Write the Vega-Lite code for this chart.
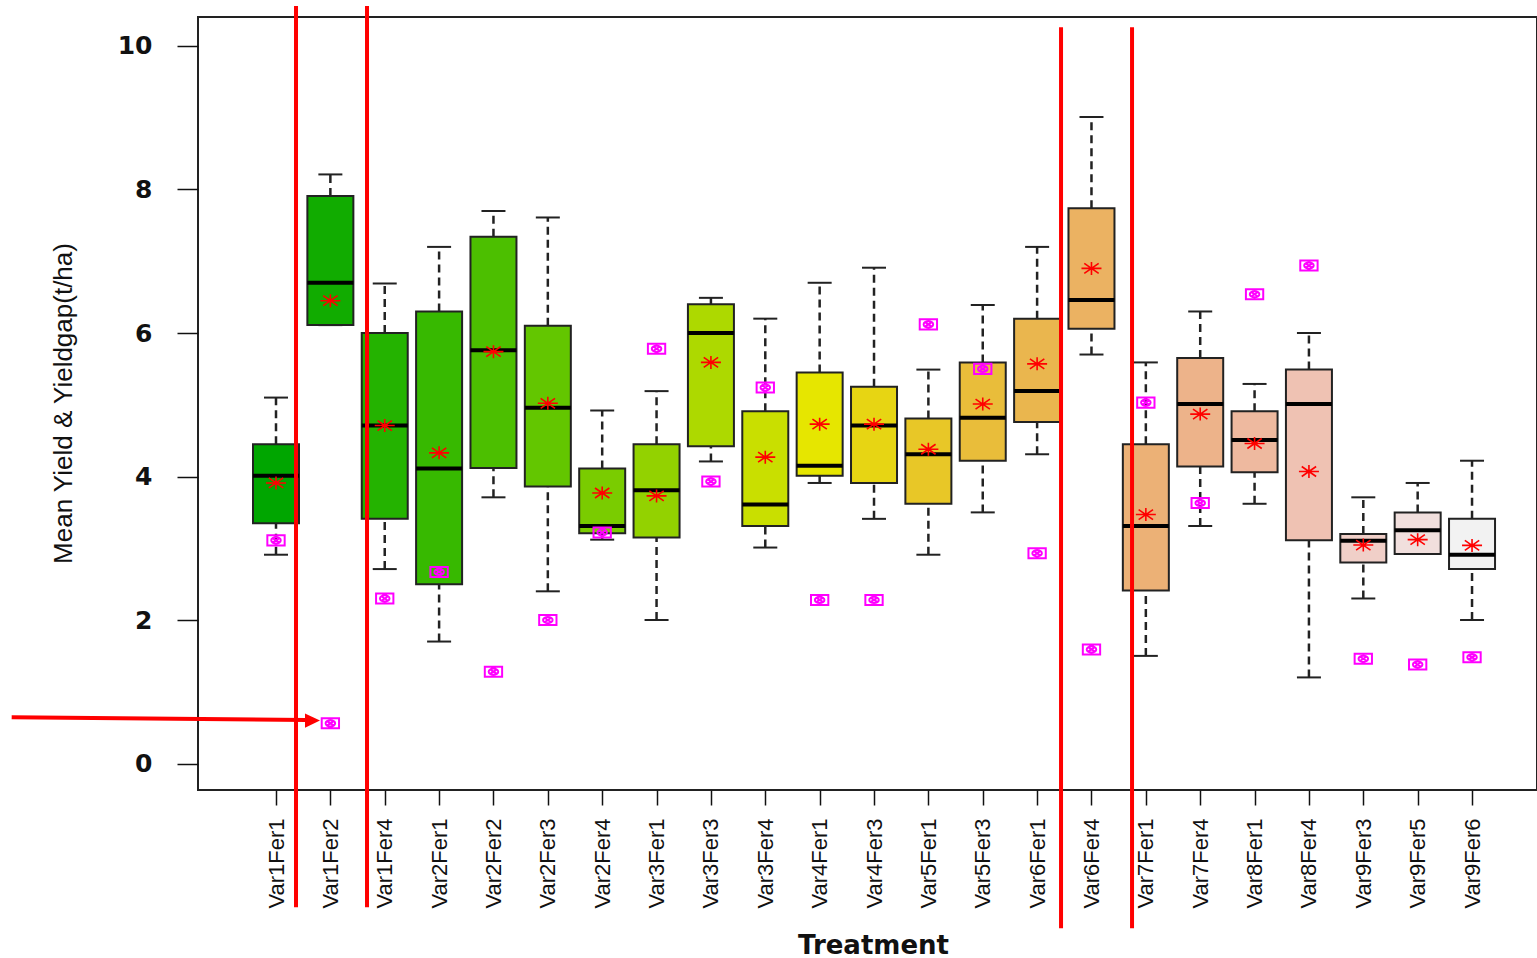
{
  "$schema": "https://vega.github.io/schema/vega-lite/v6.json",
  "width": 1339,
  "height": 773,
  "autosize": {"type": "none"},
  "padding": {"left": 198, "top": 17, "right": 0, "bottom": 168},
  "background": "white",
  "config": {
    "view": {"stroke": "#222222", "strokeWidth": 2},
    "axis": {"grid": false, "domain": false, "tickColor": "#111111", "tickWidth": 1.5, "labelColor": "#111111", "titleColor": "#111111"},
    "axisY": {
      "tickCount": 5,
      "labelFont": "DejaVu Sans",
      "labelFontWeight": "bold",
      "labelFontSize": 25,
      "labelFlush": false,
      "tickSize": 21,
      "labelPadding": 25,
      "titleFont": "Liberation Sans",
      "titleFontSize": 26,
      "titleFontWeight": "normal",
      "titleAngle": 270,
      "titleX": -127,
      "titleY": 386,
      "titleBaseline": "alphabetic",
      "titleAlign": "center"
    }
  },
  "datasets": {
    "boxes": [
      {"pos": 1, "treatment": "Var1Fer1", "lower": 2.91, "q1": 3.35, "median": 4.01, "q3": 4.45, "upper": 5.10, "mean": 3.91, "gap": 3.11},
      {"pos": 2, "treatment": "Var1Fer2", "lower": 6.11, "q1": 6.11, "median": 6.70, "q3": 7.91, "upper": 8.21, "mean": 6.45, "gap": 0.56},
      {"pos": 3, "treatment": "Var1Fer4", "lower": 2.71, "q1": 3.41, "median": 4.71, "q3": 6.00, "upper": 6.69, "mean": 4.71, "gap": 2.30},
      {"pos": 4, "treatment": "Var2Fer1", "lower": 1.70, "q1": 2.50, "median": 4.11, "q3": 6.30, "upper": 7.20, "mean": 4.33, "gap": 2.67},
      {"pos": 5, "treatment": "Var2Fer2", "lower": 3.71, "q1": 4.12, "median": 5.76, "q3": 7.34, "upper": 7.70, "mean": 5.74, "gap": 1.28},
      {"pos": 6, "treatment": "Var2Fer3", "lower": 2.40, "q1": 3.86, "median": 4.96, "q3": 6.10, "upper": 7.61, "mean": 5.02, "gap": 2.00},
      {"pos": 7, "treatment": "Var2Fer4", "lower": 3.12, "q1": 3.21, "median": 3.31, "q3": 4.11, "upper": 4.92, "mean": 3.77, "gap": 3.22},
      {"pos": 8, "treatment": "Var3Fer1", "lower": 2.00, "q1": 3.15, "median": 3.81, "q3": 4.45, "upper": 5.19, "mean": 3.73, "gap": 5.78},
      {"pos": 9, "treatment": "Var3Fer3", "lower": 4.21, "q1": 4.42, "median": 6.00, "q3": 6.40, "upper": 6.49, "mean": 5.59, "gap": 3.93},
      {"pos": 10, "treatment": "Var3Fer4", "lower": 3.01, "q1": 3.31, "median": 3.61, "q3": 4.91, "upper": 6.20, "mean": 4.27, "gap": 5.24},
      {"pos": 11, "treatment": "Var4Fer1", "lower": 3.91, "q1": 4.01, "median": 4.15, "q3": 5.45, "upper": 6.70, "mean": 4.73, "gap": 2.28},
      {"pos": 12, "treatment": "Var4Fer3", "lower": 3.41, "q1": 3.91, "median": 4.71, "q3": 5.25, "upper": 6.91, "mean": 4.73, "gap": 2.28},
      {"pos": 13, "treatment": "Var5Fer1", "lower": 2.91, "q1": 3.62, "median": 4.31, "q3": 4.81, "upper": 5.49, "mean": 4.38, "gap": 6.12},
      {"pos": 14, "treatment": "Var5Fer3", "lower": 3.50, "q1": 4.22, "median": 4.82, "q3": 5.59, "upper": 6.39, "mean": 5.01, "gap": 5.50},
      {"pos": 15, "treatment": "Var6Fer1", "lower": 4.31, "q1": 4.76, "median": 5.19, "q3": 6.20, "upper": 7.20, "mean": 5.57, "gap": 2.93},
      {"pos": 16, "treatment": "Var6Fer4", "lower": 5.70, "q1": 6.06, "median": 6.46, "q3": 7.74, "upper": 9.01, "mean": 6.90, "gap": 1.59},
      {"pos": 17, "treatment": "Var7Fer1", "lower": 1.50, "q1": 2.41, "median": 3.31, "q3": 4.45, "upper": 5.59, "mean": 3.47, "gap": 5.03},
      {"pos": 18, "treatment": "Var7Fer4", "lower": 3.31, "q1": 4.14, "median": 5.01, "q3": 5.65, "upper": 6.30, "mean": 4.87, "gap": 3.63},
      {"pos": 19, "treatment": "Var8Fer1", "lower": 3.62, "q1": 4.06, "median": 4.51, "q3": 4.91, "upper": 5.29, "mean": 4.46, "gap": 6.54},
      {"pos": 20, "treatment": "Var8Fer4", "lower": 1.20, "q1": 3.11, "median": 5.01, "q3": 5.49, "upper": 6.00, "mean": 4.07, "gap": 6.94},
      {"pos": 21, "treatment": "Var9Fer3", "lower": 2.30, "q1": 2.80, "median": 3.105, "q3": 3.20, "upper": 3.71, "mean": 3.045, "gap": 1.46},
      {"pos": 22, "treatment": "Var9Fer5", "lower": 2.92, "q1": 2.92, "median": 3.25, "q3": 3.50, "upper": 3.91, "mean": 3.12, "gap": 1.38},
      {"pos": 23, "treatment": "Var9Fer6", "lower": 2.00, "q1": 2.71, "median": 2.91, "q3": 3.41, "upper": 4.22, "mean": 3.04, "gap": 1.48}
    ],
    "lines": [
      {"pos": 1.368, "ytop": 10.557, "ybot": -2.004},
      {"pos": 2.674, "ytop": 10.557, "ybot": -2.004},
      {"pos": 15.440, "ytop": 10.261, "ybot": -2.297},
      {"pos": 16.746, "ytop": 10.261, "ybot": -2.297}
    ],
    "arrow": [
      {"pos": -3.862, "y": 0.644, "pos2": 1.552, "y2": 0.606}
    ],
    "arrowhead": [
      {"pos": 1.671, "y": 0.599}
    ]
  },
  "encoding": {
    "x": {
      "field": "pos",
      "type": "quantitative",
      "scale": {"domain": [-0.4348, 24.195], "nice": false, "zero": false, "padding": 0},
      "axis": {
        "values": [1, 2, 3, 4, 5, 6, 7, 8, 9, 10, 11, 12, 13, 14, 15, 16, 17, 18, 19, 20, 21, 22, 23],
        "labelExpr": "['Var1Fer1','Var1Fer2','Var1Fer4','Var2Fer1','Var2Fer2','Var2Fer3','Var2Fer4','Var3Fer1','Var3Fer3','Var3Fer4','Var4Fer1','Var4Fer3','Var5Fer1','Var5Fer3','Var6Fer1','Var6Fer4','Var7Fer1','Var7Fer4','Var8Fer1','Var8Fer4','Var9Fer3','Var9Fer5','Var9Fer6'][datum.value - 1]",
        "labelAngle": 270,
        "labelFont": "Liberation Sans",
        "labelFontSize": 22,
        "labelOverlap": false,
        "labelFlush": false,
        "tickSize": 15,
        "labelPadding": 13,
        "title": "Treatment",
        "titleFont": "DejaVu Sans",
        "titleFontSize": 26,
        "titleFontWeight": "bold",
        "titleX": 675,
        "titleY": 163,
        "titleBaseline": "alphabetic",
        "titleAlign": "center"
      }
    }
  },
  "layer": [
    {
      "data": {"name": "boxes"},
      "mark": {"type": "rule", "strokeDash": [8, 5], "strokeWidth": 2.5, "color": "#222222"},
      "encoding": {
        "y": {"field": "lower", "type": "quantitative", "scale": {"domain": [-0.369, 10.404], "nice": false, "zero": false, "padding": 0}, "axis": {"title": "Mean Yield & Yieldgap(t/ha)"}},
        "y2": {"field": "q1"}
      }
    },
    {
      "data": {"name": "boxes"},
      "mark": {"type": "rule", "strokeDash": [8, 5], "strokeWidth": 2.5, "color": "#222222"},
      "encoding": {
        "y": {"field": "q3", "type": "quantitative", "scale": {"domain": [-0.369, 10.404], "nice": false, "zero": false, "padding": 0}, "axis": {"title": "Mean Yield & Yieldgap(t/ha)"}},
        "y2": {"field": "upper"}
      }
    },
    {
      "data": {"name": "boxes"},
      "mark": {"type": "rule", "xOffset": -12, "x2Offset": 12, "strokeWidth": 2, "color": "#222222"},
      "encoding": {
        "x2": {"field": "pos"},
        "y": {"field": "lower", "type": "quantitative", "scale": {"domain": [-0.369, 10.404], "nice": false, "zero": false, "padding": 0}, "axis": {"title": "Mean Yield & Yieldgap(t/ha)"}}
      }
    },
    {
      "data": {"name": "boxes"},
      "mark": {"type": "rule", "xOffset": -12, "x2Offset": 12, "strokeWidth": 2, "color": "#222222"},
      "encoding": {
        "x2": {"field": "pos"},
        "y": {"field": "upper", "type": "quantitative", "scale": {"domain": [-0.369, 10.404], "nice": false, "zero": false, "padding": 0}, "axis": {"title": "Mean Yield & Yieldgap(t/ha)"}}
      }
    },
    {
      "data": {"name": "boxes"},
      "mark": {"type": "bar", "size": 46, "stroke": "#222222", "strokeWidth": 2, "opacity": 1},
      "encoding": {
        "y": {"field": "q1", "type": "quantitative", "scale": {"domain": [-0.369, 10.404], "nice": false, "zero": false, "padding": 0}, "axis": {"title": "Mean Yield & Yieldgap(t/ha)"}},
        "y2": {"field": "q3"},
        "fill": {
          "field": "treatment", "type": "nominal", "legend": null,
          "scale": {
            "domain": ["Var1Fer1","Var1Fer2","Var1Fer4","Var2Fer1","Var2Fer2","Var2Fer3","Var2Fer4","Var3Fer1","Var3Fer3","Var3Fer4","Var4Fer1","Var4Fer3","Var5Fer1","Var5Fer3","Var6Fer1","Var6Fer4","Var7Fer1","Var7Fer4","Var8Fer1","Var8Fer4","Var9Fer3","Var9Fer5","Var9Fer6"],
            "range": ["#00A600","#11AC00","#24B300","#37B900","#4CBF00","#63C600","#7ACC00","#93D200","#ADD900","#C9DF00","#E6E600","#E7D513","#E8C727","#E9BD3A","#EAB64E","#EBB262","#ECB176","#EDB38A","#EEB99F","#EFC2B3","#F0CFC8","#F1DFDD","#F2F2F2"]
          }
        }
      }
    },
    {
      "data": {"name": "boxes"},
      "mark": {"type": "rule", "xOffset": -23, "x2Offset": 23, "strokeWidth": 4, "color": "#000000"},
      "encoding": {
        "x2": {"field": "pos"},
        "y": {"field": "median", "type": "quantitative", "scale": {"domain": [-0.369, 10.404], "nice": false, "zero": false, "padding": 0}, "axis": {"title": "Mean Yield & Yieldgap(t/ha)"}}
      }
    },
    {
      "data": {"name": "boxes"},
      "mark": {"type": "point", "shape": "M-1,0L1,0M0,-0.65L0,0.65M-0.72,-0.5L0.72,0.5M-0.72,0.5L0.72,-0.5", "filled": false, "color": "#FF0000", "strokeWidth": 1.6, "size": 400, "opacity": 1},
      "encoding": {
        "y": {"field": "mean", "type": "quantitative", "scale": {"domain": [-0.369, 10.404], "nice": false, "zero": false, "padding": 0}, "axis": {"title": "Mean Yield & Yieldgap(t/ha)"}}
      }
    },
    {
      "data": {"name": "boxes"},
      "mark": {"type": "point", "shape": "M-1,-0.58L1,-0.58L1,0.58L-1,0.58Z M-0.55,0A0.55,0.36,0,1,1,0.55,0A0.55,0.36,0,1,1,-0.55,0Z M-0.4,-0.26L0.4,0.26M-0.4,0.26L0.4,-0.26", "filled": false, "color": "#FF00FF", "strokeWidth": 2, "size": 300, "opacity": 1},
      "encoding": {
        "y": {"field": "gap", "type": "quantitative", "scale": {"domain": [-0.369, 10.404], "nice": false, "zero": false, "padding": 0}, "axis": {"title": "Mean Yield & Yieldgap(t/ha)"}}
      }
    },
    {
      "data": {"name": "lines"},
      "mark": {"type": "rule", "color": "#FF0000", "strokeWidth": 4},
      "encoding": {
        "y": {"field": "ytop", "type": "quantitative", "scale": {"domain": [-0.369, 10.404], "nice": false, "zero": false, "padding": 0}, "axis": {"title": "Mean Yield & Yieldgap(t/ha)"}},
        "y2": {"field": "ybot"}
      }
    },
    {
      "data": {"name": "arrow"},
      "mark": {"type": "rule", "color": "#FF0000", "strokeWidth": 4},
      "encoding": {
        "x2": {"field": "pos2"},
        "y": {"field": "y", "type": "quantitative", "scale": {"domain": [-0.369, 10.404], "nice": false, "zero": false, "padding": 0}, "axis": {"title": "Mean Yield & Yieldgap(t/ha)"}},
        "y2": {"field": "y2"}
      }
    },
    {
      "data": {"name": "arrowhead"},
      "mark": {"type": "point", "shape": "M-1,-0.95L1,0L-1,0.95Z", "filled": true, "color": "#FF0000", "size": 225, "opacity": 1},
      "encoding": {
        "y": {"field": "y", "type": "quantitative", "scale": {"domain": [-0.369, 10.404], "nice": false, "zero": false, "padding": 0}, "axis": {"title": "Mean Yield & Yieldgap(t/ha)"}}
      }
    }
  ]
}
